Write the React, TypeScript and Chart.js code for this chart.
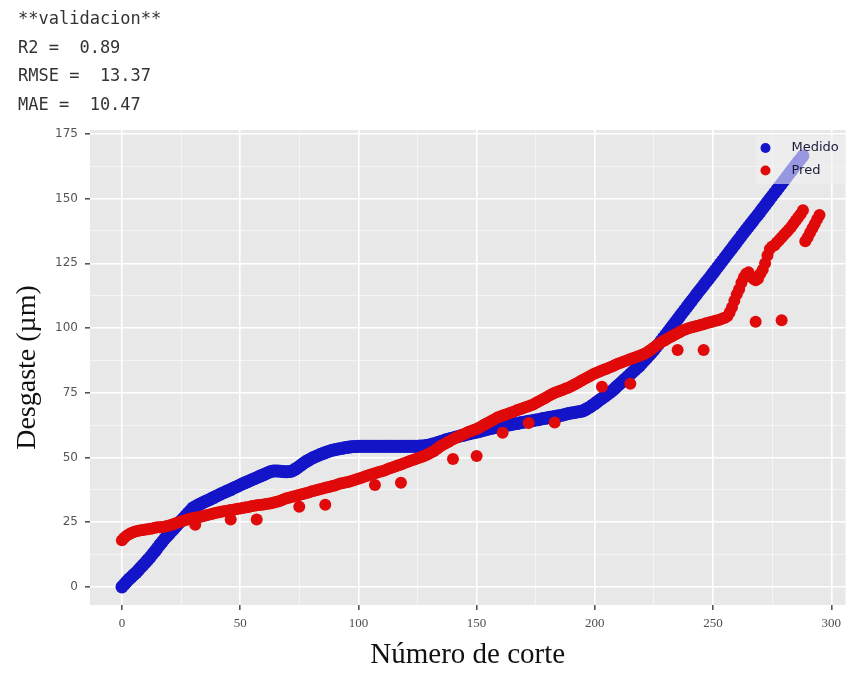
import React, { useEffect, useRef } from 'react';
import { Chart, registerables } from 'chart.js';

Chart.register(...registerables);

const headerLines = ['**validacion**', 'R2 =  0.89', 'RMSE =  13.37', 'MAE =  10.47'];

const seriesLabels = ['Medido', 'Pred'];
const xTitle = 'Número de corte';
const yTitle = 'Desgaste (µm)';
const xTickLabels = ['0', '50', '100', '150', '200', '250', '300'];
const yTickLabels = ['0', '25', '50', '75', '100', '125', '150', '175'];

const cutNumbers = [
  0, 1, 2, 3, 4, 5, 6, 7, 8, 9,
  10, 11, 12, 13, 14, 15, 16, 17, 18, 19,
  20, 21, 22, 23, 24, 25, 26, 27, 28, 29,
  30, 31, 32, 33, 34, 35, 36, 37, 38, 39,
  40, 41, 42, 43, 44, 45, 46, 47, 48, 49,
  50, 51, 52, 53, 54, 55, 56, 57, 58, 59,
  60, 61, 62, 63, 64, 65, 66, 67, 68, 69,
  70, 71, 72, 73, 74, 75, 76, 77, 78, 79,
  80, 81, 82, 83, 84, 85, 86, 87, 88, 89,
  90, 91, 92, 93, 94, 95, 96, 97, 98, 99,
  100, 101, 102, 103, 104, 105, 106, 107, 108, 109,
  110, 111, 112, 113, 114, 115, 116, 117, 118, 119,
  120, 121, 122, 123, 124, 125, 126, 127, 128, 129,
  130, 131, 132, 133, 134, 135, 136, 137, 138, 139,
  140, 141, 142, 143, 144, 145, 146, 147, 148, 149,
  150, 151, 152, 153, 154, 155, 156, 157, 158, 159,
  160, 161, 162, 163, 164, 165, 166, 167, 168, 169,
  170, 171, 172, 173, 174, 175, 176, 177, 178, 179,
  180, 181, 182, 183, 184, 185, 186, 187, 188, 189,
  190, 191, 192, 193, 194, 195, 196, 197, 198, 199,
  200, 201, 202, 203, 204, 205, 206, 207, 208, 209,
  210, 211, 212, 213, 214, 215, 216, 217, 218, 219,
  220, 221, 222, 223, 224, 225, 226, 227, 228, 229,
  230, 231, 232, 233, 234, 235, 236, 237, 238, 239,
  240, 241, 242, 243, 244, 245, 246, 247, 248, 249,
  250, 251, 252, 253, 254, 255, 256, 257, 258, 259,
  260, 261, 262, 263, 264, 265, 266, 267, 268, 269,
  270, 271, 272, 273, 274, 275, 276, 277, 278, 279,
  280, 281, 282, 283, 284, 285, 286, 287, 288,
];

const medido = [
  0, 1, 2, 3, 3.8, 4.7, 5.5, 6.5, 7.5, 8.5,
  9.5, 10.5, 11.5, 12.7, 13.8, 15, 16.2, 17.3, 18.5, 19.5,
  20.5, 21.5, 22.5, 23.5, 24.5, 25.5, 26.5, 27.5, 28.5, 29.5,
  30.5, 31, 31.5, 32, 32.4, 32.9, 33.3, 33.7, 34.2, 34.6,
  35.1, 35.5, 36, 36.4, 36.8, 37.2, 37.6, 38.1, 38.5, 38.9,
  39.4, 39.8, 40.2, 40.6, 41, 41.4, 41.8, 42.2, 42.6, 43,
  43.4, 43.8, 44.2, 44.6, 44.8, 44.8, 44.8, 44.7, 44.6, 44.5,
  44.5, 44.6, 44.8, 45.3, 45.9, 46.5, 47.2, 47.9, 48.5, 49,
  49.5, 50, 50.4, 50.8, 51.2, 51.5, 51.9, 52.2, 52.5, 52.8,
  53, 53.2, 53.4, 53.5, 53.7, 53.8, 54, 54.1, 54.2, 54.2,
  54.3, 54.3, 54.3, 54.3, 54.3, 54.3, 54.3, 54.3, 54.3, 54.3,
  54.3, 54.3, 54.3, 54.3, 54.3, 54.3, 54.3, 54.3, 54.3, 54.3,
  54.3, 54.3, 54.3, 54.3, 54.3, 54.3, 54.4, 54.4, 54.5, 54.6,
  54.8, 55.1, 55.3, 55.6, 55.9, 56.2, 56.5, 56.8, 57, 57.3,
  57.5, 57.8, 58, 58.3, 58.5, 58.7, 59, 59.2, 59.4, 59.6,
  59.8, 60, 60.3, 60.5, 60.7, 61, 61.2, 61.4, 61.6, 61.8,
  62, 62.1, 62.3, 62.5, 62.6, 62.8, 63, 63.1, 63.3, 63.5,
  63.6, 63.8, 64, 64.1, 64.3, 64.5, 64.6, 64.8, 65, 65.1,
  65.3, 65.5, 65.6, 65.8, 66, 66.1, 66.3, 66.5, 66.8, 67,
  67.2, 67.3, 67.5, 67.7, 67.8, 68, 68.5, 69, 69.5, 70.2,
  70.8, 71.5, 72.2, 72.8, 73.5, 74.2, 74.8, 75.5, 76.3, 77.2,
  78, 78.8, 79.7, 80.5, 81.3, 82.2, 83, 83.8, 84.7, 85.5,
  86.5, 87.5, 88.5, 89.5, 90.5, 91.5, 92.7, 93.8, 95, 96.2,
  97.4, 98.6, 99.8, 101, 102.2, 103.4, 104.6, 105.8, 107, 108.2,
  109.4, 110.6, 111.8, 113, 114.2, 115.3, 116.5, 117.7, 118.8, 120,
  121.2, 122.4, 123.6, 124.8, 126, 127.2, 128.4, 129.6, 130.8, 132,
  133.2, 134.4, 135.6, 136.8, 138, 139.2, 140.3, 141.5, 142.7, 143.8,
  145, 146.2, 147.4, 148.6, 149.8, 151, 152.2, 153.4, 154.6, 155.8,
  157, 158.2, 159.4, 160.6, 161.8, 163, 164.2, 165.3, 166.5,
];

const pred = [
  18, 19, 19.8, 20.3, 20.8, 21.2, 21.5, 21.7, 21.9, 22,
  22.2, 22.3, 22.5, 22.6, 22.8, 23, 23, 23.1, 23.2, 23.5,
  23.7, 24, 24.3, 24.7, 25, 25.3, 25.5, 25.8, 26.1, 26.3,
  26.6, 26.7, 26.9, 27, 27.3, 27.5, 27.8, 28, 28.2, 28.4,
  28.6, 28.8, 29, 29.2, 29.3, 29.5, 29.7, 29.8, 30, 30.2,
  30.3, 30.5, 30.7, 30.8, 31, 31.2, 31.3, 31.5, 31.6, 31.7,
  31.8, 32, 32.1, 32.3, 32.5, 32.8, 33, 33.3, 33.7, 34,
  34.3, 34.5, 34.8, 35, 35.3, 35.5, 35.8, 36, 36.3, 36.5,
  36.8, 37, 37.3, 37.5, 37.8, 38, 38.3, 38.5, 38.7, 39,
  39.2, 39.5, 39.8, 40, 40.2, 40.4, 40.6, 40.9, 41.2, 41.5,
  41.8, 42.1, 42.4, 42.7, 43, 43.3, 43.6, 43.9, 44.2, 44.5,
  44.7, 45, 45.3, 45.7, 46, 46.3, 46.7, 47, 47.3, 47.7,
  48, 48.3, 48.7, 49, 49.3, 49.7, 50, 50.3, 50.7, 51,
  51.5, 52, 52.5, 53.2, 53.8, 54.5, 55, 55.5, 56, 56.5,
  57, 57.5, 57.9, 58.4, 58.8, 59.2, 59.6, 60, 60.3, 60.7,
  61, 61.5, 62, 62.5, 63, 63.5, 64, 64.5, 65, 65.5,
  65.8, 66.2, 66.5, 66.8, 67.2, 67.5, 67.8, 68.2, 68.5, 68.8,
  69.2, 69.5, 69.8, 70.2, 70.5, 71, 71.5, 72, 72.5, 73,
  73.5, 74, 74.5, 75, 75.3, 75.7, 76, 76.3, 76.7, 77,
  77.5, 78, 78.5, 79, 79.5, 80, 80.5, 81, 81.5, 82,
  82.4, 82.8, 83.2, 83.6, 84, 84.3, 84.7, 85, 85.4, 85.9,
  86.3, 86.6, 87, 87.3, 87.6, 88, 88.3, 88.6, 89, 89.3,
  89.7, 90.1, 90.5, 91.2, 91.8, 92.5, 93.2, 93.8, 94.5, 95,
  95.5, 96, 96.5, 97, 97.5, 98, 98.5, 99, 99.3, 99.7,
  100, 100.3, 100.5, 100.8, 101, 101.3, 101.5, 101.8, 102, 102.3,
  102.5, 102.8, 103, 103.3, 103.7, 104, 104.5, 106, 108, 110.5,
  113, 115, 117.5, 119.5, 121, 121.5, 120, 119, 118.5, 119,
  121, 122.5, 125, 128, 130.5, 131.5, 132, 133, 134, 135,
  136, 137, 138, 139, 140.3, 141.5, 142.8, 144, 145.5,
];

// Pred points lying off the main band (low outliers and the last short run)
const predExtraCuts = [31, 46, 57, 75, 86, 107, 118, 140, 150, 161, 172, 183, 203, 215, 235, 246, 268, 279, 289, 290, 291, 292, 293, 294, 295];
const predExtraValues = [24, 26, 26, 31, 31.7, 39.4, 40.2, 49.4, 50.6, 59.5, 63.3, 63.5, 77.3, 78.5, 91.5, 91.5, 102.4, 103, 133.5, 135, 136.8, 138.5, 140.2, 142, 143.7];

const BLUE = '#1414C8';
const RED = '#E00A0A';

function toPoints(xs: number[], ys: (number | null)[]) {
  const out: { x: number; y: number }[] = [];
  xs.forEach((x, i) => {
    const y = ys[i];
    if (y !== null && y !== undefined) out.push({ x, y });
  });
  return out;
}

const panelPlugin = {
  id: 'panelBg',
  beforeDraw(chart: any) {
    const { ctx, chartArea } = chart;
    ctx.save();
    ctx.fillStyle = '#E8E8E8';
    ctx.fillRect(chartArea.left, chartArea.top, chartArea.right - chartArea.left, chartArea.bottom - chartArea.top);
    ctx.restore();
  },
};

const insetLegendPlugin = {
  id: 'insetLegend',
  afterDatasetsDraw(chart: any) {
    const { ctx, chartArea } = chart;
    const right = chartArea.right;
    const top = chartArea.top;
    ctx.save();
    ctx.fillStyle = 'rgba(240,240,240,0.6)';
    ctx.fillRect(right - 90, top + 6, 90, 48);
    chart.data.datasets.forEach((ds: any, i: number) => {
      const cy = top + 18 + i * 22.5;
      ctx.beginPath();
      ctx.fillStyle = ds.backgroundColor;
      ctx.arc(right - 80, cy, 5, 0, Math.PI * 2);
      ctx.fill();
      ctx.fillStyle = '#1c1c3c';
      ctx.font = '13px "DejaVu Sans", sans-serif';
      ctx.textBaseline = 'middle';
      ctx.textAlign = 'left';
      ctx.fillText(ds.label, right - 54, cy);
    });
    ctx.restore();
  },
};

export default function App() {
  const ref = useRef<HTMLCanvasElement>(null);

  useEffect(() => {
    if (!ref.current) return;
    const isMajorX = (v: number) => xTickLabels.includes(String(v));
    const isMajorY = (v: number) => yTickLabels.includes(String(v));
    const chart = new Chart(ref.current, {
      type: 'scatter',
      data: {
        datasets: [
          {
            label: seriesLabels[0],
            data: toPoints(cutNumbers, medido),
            backgroundColor: BLUE,
            borderWidth: 0,
            pointRadius: 6.5,
            pointHoverRadius: 6.5,
            order: 1,
          },
          {
            label: seriesLabels[1],
            data: [...toPoints(cutNumbers, pred), ...toPoints(predExtraCuts, predExtraValues)],
            backgroundColor: RED,
            borderWidth: 0,
            pointRadius: 6,
            pointHoverRadius: 6,
            order: 0,
          },
        ],
      },
      options: {
        responsive: false,
        animation: false,
        devicePixelRatio: 1,
        layout: { padding: { top: 130, right: 4, left: 0, bottom: 0 } },
        plugins: {
          legend: { display: false },
          tooltip: { enabled: false },
        },
        scales: {
          x: {
            type: 'linear',
            min: -13.5,
            max: 306,
            afterFit: (s: any) => {
              s.height = 68;
            },
            border: { display: false },
            grid: {
              color: (c: any) => (isMajorX(c.tick?.value) ? '#FFFFFF' : 'rgba(255,255,255,0.65)'),
              lineWidth: (c: any) => (isMajorX(c.tick?.value) ? 1.6 : 0.8),
              tickLength: 5,
              tickColor: (c: any) => (isMajorX(c.tick?.value) ? '#555555' : 'rgba(0,0,0,0)'),
            },
            ticks: {
              stepSize: 25,
              includeBounds: false,
              autoSkip: false,
              maxRotation: 0,
              padding: 6,
              color: '#4d4d4d',
              font: { family: '"Liberation Serif", serif', size: 13 },
              callback: (v: any) => (isMajorX(v) ? String(v) : ''),
            },
            title: {
              display: true,
              text: xTitle,
              color: '#111111',
              font: { family: '"Liberation Serif", serif', size: 29 },
              padding: { top: 0, bottom: 0 },
            },
          },
          y: {
            type: 'linear',
            min: -7,
            max: 176.5,
            afterFit: (s: any) => {
              s.width = 90;
            },
            border: { display: false },
            grid: {
              color: (c: any) => (isMajorY(c.tick?.value) ? '#FFFFFF' : 'rgba(255,255,255,0.65)'),
              lineWidth: (c: any) => (isMajorY(c.tick?.value) ? 1.6 : 0.8),
              tickLength: 5,
              tickColor: (c: any) => (isMajorY(c.tick?.value) ? '#555555' : 'rgba(0,0,0,0)'),
            },
            ticks: {
              stepSize: 12.5,
              includeBounds: false,
              autoSkip: false,
              padding: 7,
              color: '#555555',
              font: { family: '"DejaVu Sans", sans-serif', size: 12 },
              callback: (v: any) => (isMajorY(v) ? String(v) : ''),
            },
            title: {
              display: true,
              text: yTitle,
              color: '#111111',
              font: { family: '"Liberation Serif", serif', size: 28 },
              padding: { top: 11, bottom: 0 },
            },
          },
        },
      },
      plugins: [panelPlugin, insetLegendPlugin],
    });
    return () => chart.destroy();
  }, []);

  return (
    <div style={{ position: 'absolute', left: 0, top: 0, width: 852, height: 673, background: '#ffffff' }}>
      <canvas
        ref={ref}
        width={852}
        height={673}
        style={{ position: 'absolute', left: 0, top: 0, width: 852, height: 673 }}
      />
      <div
        style={{
          position: 'absolute',
          left: 18,
          top: 4,
          fontFamily: '"DejaVu Sans Mono", monospace',
          fontSize: 17,
          lineHeight: '28.6px',
          color: '#333333',
          whiteSpace: 'pre',
        }}
      >
        {headerLines.map((l) => (
          <div key={l}>{l}</div>
        ))}
      </div>
    </div>
  );
}
